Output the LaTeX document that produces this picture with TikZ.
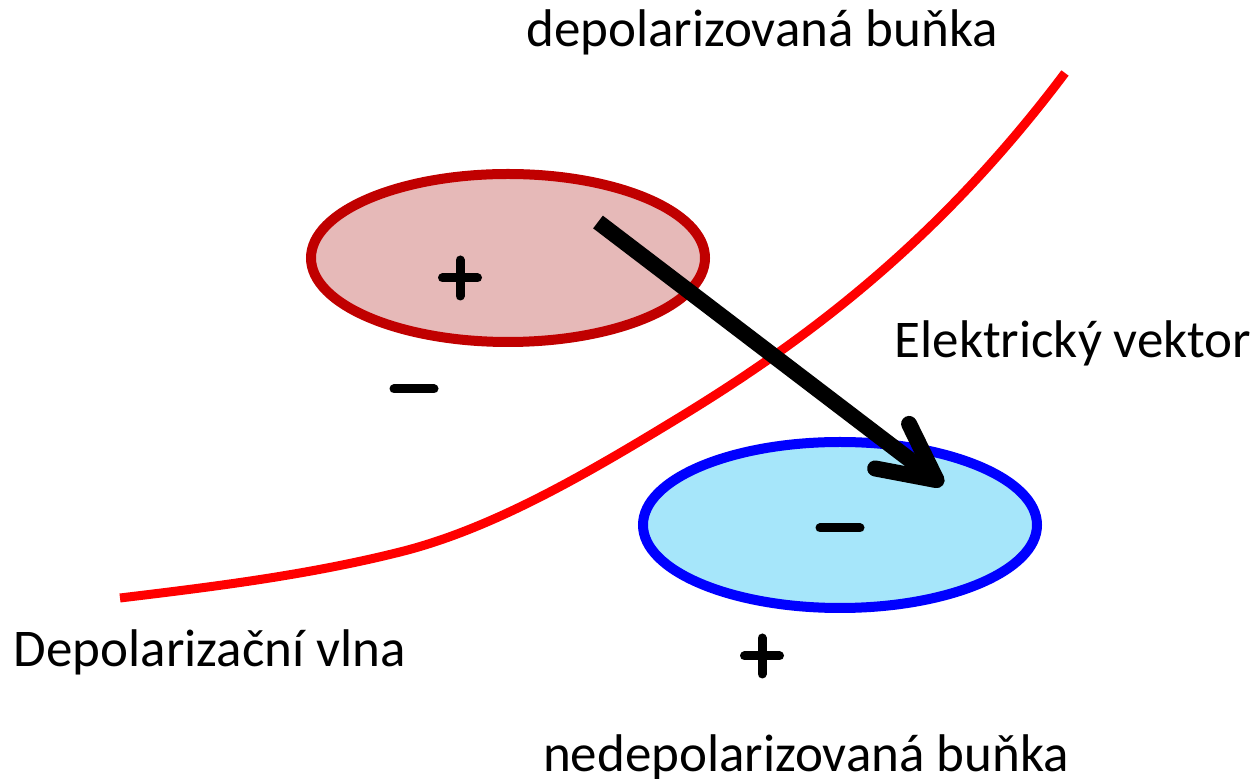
\documentclass[tikz,border=0pt]{standalone}
\usepackage{fontspec}
\setmainfont{Carlito}
\usetikzlibrary{arrows.meta,shapes.geometric,positioning}
\definecolor{depfill}{HTML}{E6B9B8}
\definecolor{depline}{HTML}{C00000}
\definecolor{restfill}{HTML}{A6E6FA}
\definecolor{restline}{HTML}{0000FF}
\definecolor{waveline}{HTML}{FF0000}
\tikzset{
  chargeplus/.pic={\draw[line width=4.5pt,line cap=round] (-17.5,0) -- (17.5,0) (0,-18) -- (0,18);},
  chargeminus/.pic={\draw[line width=4.5pt,line cap=round] (-20,0) -- (20,0);}
}

\begin{document}
\begin{tikzpicture}[x=0.5pt,y=-0.5pt,
  cell/.style={ellipse,line width=5pt,minimum width=197pt,inner sep=0pt},
  txt/.style={font=\fontsize{26.5}{32}\selectfont,anchor=base}]
  \useasboundingbox (0,0) rectangle (1259,779);
  % the two cells
  \node[cell,draw=depline,fill=depfill,minimum height=84pt] (depcell) at (508,258) {};
  \node[cell,draw=restline,fill=restfill,minimum height=83pt] (restcell) at (840,525) {};
  % wave front
  \draw[waveline,line width=4.5pt] (120,598) .. controls (213,586.8) and (307,575.25) .. (400,552)
    .. controls (493,528.75) and (587,473.7) .. (680,417)
    .. controls (810,337.7) and (940,239.25) .. (1065,73);
  % electric vector
  \coordinate (vecstart) at (598,222);
  \coordinate (vectip) at (943,485);
  \draw[line width=8pt,-{Straight Barb[length=28pt,width=28pt,round]}] (vecstart) -- (vectip);
  % charges
  \pic at (460,278) {chargeplus};
  \pic at (414,389) {chargeminus};
  \pic at (840,528) {chargeminus};
  \pic at (762,656) {chargeplus};
  % texts
  \node[txt] (deptext) at (762,47) {depolarizovaná buňka};
  \node[txt] (vectext) at (1073,358) {Elektrický vektor};
  \node[txt] (wavetext) at (210,667) {Depolarizační vlna};
  \node[txt] (resttext) at (806,772) {nedepolarizovaná buňka};
\end{tikzpicture}
\end{document}
